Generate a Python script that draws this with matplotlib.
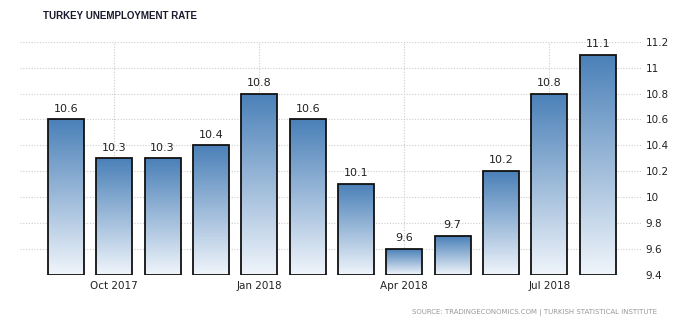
import numpy as np
import matplotlib
matplotlib.use("Agg")
import matplotlib.pyplot as plt
from matplotlib.colors import LinearSegmentedColormap

months = ["Sep 2017", "Oct 2017", "Nov 2017", "Dec 2017", "Jan 2018", "Feb 2018",
          "Mar 2018", "Apr 2018", "May 2018", "Jun 2018", "Jul 2018", "Aug 2018"]
values = [10.6, 10.3, 10.3, 10.4, 10.8, 10.6, 10.1, 9.6, 9.7, 10.2, 10.8, 11.1]
tick_labels = ["Oct 2017", "Jan 2018", "Apr 2018", "Jul 2018"]
yticks = [9.4, 9.6, 9.8, 10, 10.2, 10.4, 10.6, 10.8, 11, 11.2]

fig = plt.figure(figsize=(7, 3.26), dpi=100)
ax = fig.add_axes([0.0286, 0.1564, 0.8874, 0.7156])

ymin, ymax = 9.4, 11.2
x = np.arange(len(values))
width = 0.74
cmap = LinearSegmentedColormap.from_list("g", ["#f0f5fb", "#4a80b8"])
grad = np.linspace(0, 1, 256).reshape(-1, 1)

bars = ax.bar(x, [v - ymin for v in values], bottom=ymin, width=width,
              facecolor="none", edgecolor="#111111", linewidth=1.3, zorder=4)
for b in bars:
    x0, y0 = b.get_x(), b.get_y()
    im = ax.imshow(grad, cmap=cmap, origin="lower", aspect="auto",
                   extent=[x0, x0 + b.get_width(), y0, y0 + b.get_height()], zorder=3)
    im.set_clip_path(b)

for xi, v in zip(x, values):
    ax.text(xi, v + 0.045, f"{v:g}", ha="center", va="bottom", fontsize=8,
            color="#222222", zorder=5)

ax.set_xlim(-0.95, 11.9)
ax.set_ylim(ymin, ymax)
ax.yaxis.tick_right()
ax.set_yticks(yticks)
ax.set_yticklabels([f"{t:g}" for t in yticks], fontsize=7.5, color="#222222")
tick_pos = [months.index(t) for t in tick_labels]
ax.set_xticks(tick_pos)
ax.set_xticklabels(tick_labels, fontsize=7.5, color="#222222")
ax.tick_params(axis="both", length=0)
ax.tick_params(axis="y", pad=3)
ax.tick_params(axis="x", pad=4)
ax.grid(True, color="#cccccc", linestyle=(0, (1, 1.5)), linewidth=0.8, zorder=0)
ax.set_axisbelow(True)
for s in ax.spines.values():
    s.set_visible(False)

fig.text(43 / 700, 1 - 16 / 326, "TURKEY UNEMPLOYMENT RATE", fontsize=7,
         fontweight="bold", family=["Liberation Sans", "DejaVu Sans"],
         color="#1a1a2e", ha="left", va="center")
fig.text(657 / 700, 1 - 313 / 326,
         "SOURCE: TRADINGECONOMICS.COM | TURKISH STATISTICAL INSTITUTE",
         fontsize=5, color="#999999", ha="right", va="center")

fig.savefig("out.png", dpi=100)
